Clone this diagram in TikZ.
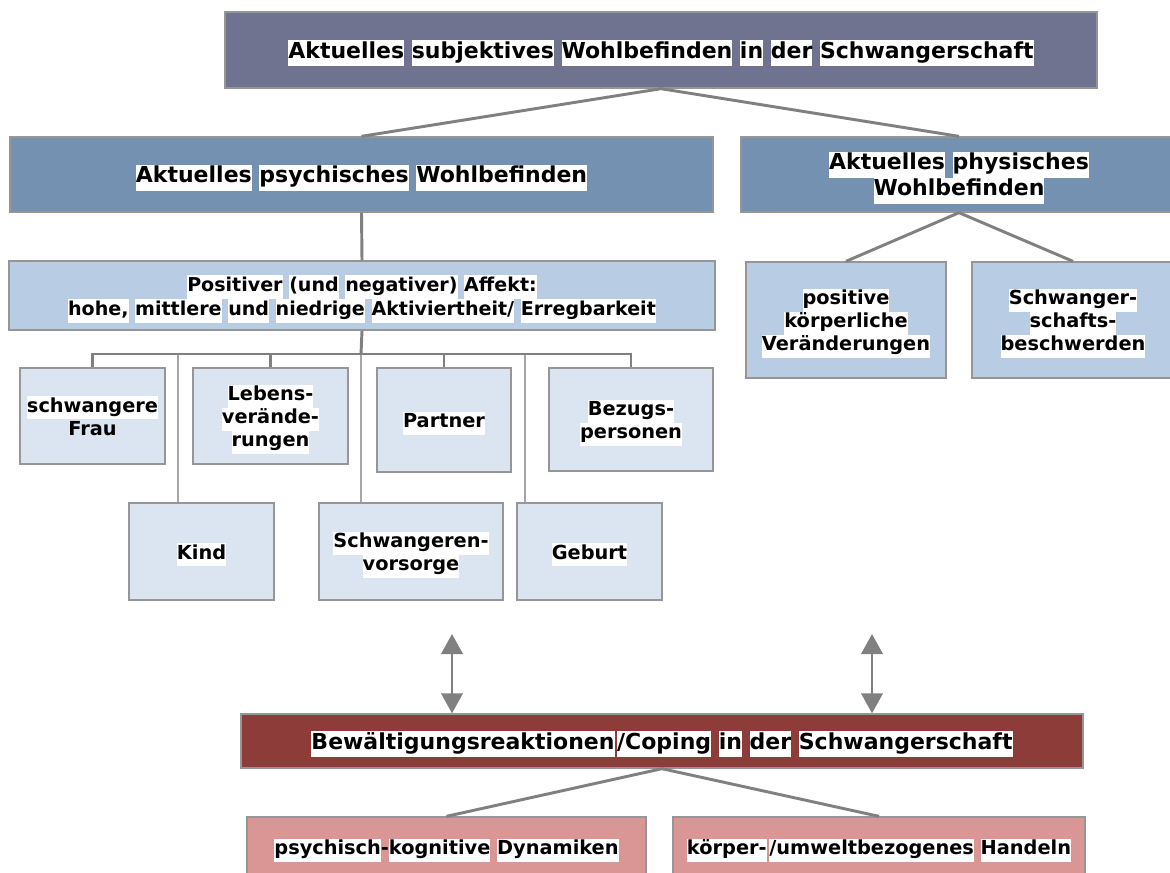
\documentclass[tikz,border=0pt]{standalone}
\usepackage{fontspec}
\setmainfont{DejaVu Sans}
\usepackage{tikz}
\usetikzlibrary{arrows.meta, positioning}
\definecolor{colorTop}{RGB}{111,115,144}
\definecolor{colorMid}{RGB}{117,145,177}
\definecolor{colorLow}{RGB}{184,204,228}
\definecolor{colorLeaf}{RGB}{219,229,241}
\definecolor{colorCope}{RGB}{142,60,58}
\definecolor{colorCopeLeaf}{RGB}{217,150,148}
\definecolor{colorFrame}{RGB}{150,150,150}
\definecolor{colorLink}{RGB}{128,128,128}
\definecolor{colorDrop}{RGB}{166,166,166}
\setlength{\fboxsep}{0pt}
% words sit on a white patch, set a little lower than the line box
\newcommand{\nohl}[1]{\raisebox{-2.25pt}[\height][\depth]{\strut #1}}
\newcommand{\hl}[1]{\nohl{\colorbox{white}{\strut #1}}}
\tikzset{
  box/.style 2 args={draw=colorFrame, line width=1pt, align=center, inner sep=0pt,
    minimum width=#1*0.75pt, minimum height=#2*0.75pt,
    font=\fontsize{14.5}{17.25}\selectfont\bfseries},
  head/.style={font=\fontsize{16.5}{19.5}\selectfont\bfseries},
  link/.style={draw=colorLink, line width=2.2pt},
  drop/.style={draw=colorDrop, line width=2.2pt},
  dbl/.style={draw=colorLink, line width=2.2pt, {Triangle[width=16pt,length=15pt]}-{Triangle[width=16pt,length=15pt]}}
}

\begin{document}
\begin{tikzpicture}[x=0.75pt, y=-0.75pt]
\useasboundingbox (0,0) rectangle (1170,872);
% top level
\node[box={872}{76}, head, fill=colorTop] (ttl) at (661,50) {\hl{Aktuelles} \hl{subjektives} \hl{Wohlbefinden} \hl{in} \hl{der} \hl{Schwangerschaft}};
\node[box={703}{75}, head, fill=colorMid] (psy) at (361.5,174.5) {\hl{Aktuelles} \hl{psychisches} \hl{Wohlbefinden}};
\node[box={436}{75}, head, fill=colorMid] (phy) at (959,174.5) {\hl{Aktuelles} \hl{physisches}\\\hl{Wohlbefinden}};
% psychisch
\node[box={706}{69}, fill=colorLow, font=\fontsize{14.3}{18}\selectfont\bfseries] (aff) at (362,295.5) {\hl{Positiver} \hl{(und} \hl{negativer)} \hl{Affekt:}\\\hl{hohe,} \hl{mittlere} \hl{und} \hl{niedrige} \hl{Aktiviertheit/} \hl{Erregbarkeit}};
\node[box={145}{96}, fill=colorLeaf] (frau) at (92.5,416) {\hl{schwangere}\\\nohl{Frau}};
\node[box={155}{96}, fill=colorLeaf] (leben) at (270.5,416) {\hl{Lebens-}\\\hl{verände-}\\\hl{rungen}};
\node[box={134}{104}, fill=colorLeaf] (partner) at (444,420) {\hl{Partner}};
\node[box={164}{103}, fill=colorLeaf] (bezug) at (631,419.5) {\hl{Bezugs-}\\\hl{personen}};
\node[box={145}{97}, fill=colorLeaf] (kind) at (201.5,551.5) {\hl{Kind}};
\node[box={184}{97}, fill=colorLeaf] (vorsorge) at (411,551.5) {\hl{Schwangeren-}\\\hl{vorsorge}};
\node[box={145}{97}, fill=colorLeaf] (geburt) at (589.5,551.5) {\hl{Geburt}};
% physisch
\node[box={200}{116}, fill=colorLow] (koerp) at (846,320) {\hl{positive}\\\hl{körperliche}\\\hl{Veränderungen}};
\node[box={202}{116}, fill=colorLow] (beschw) at (1073,320) {\hl{Schwanger-}\\\hl{schafts-}\\\hl{beschwerden}};
% coping
\node[box={842}{54}, head, fill=colorCope] (cope) at (662,741) {\hl{Bewältigungsreaktionen}\hspace{2pt}\hl{/Coping} \hl{in} \hl{der} \hl{Schwangerschaft}};
\node[box={399}{60}, fill=colorCopeLeaf] (dyn) at (446.5,847) {\hl{psychisch}\nohl{-}\hl{kognitive} \hl{Dynamiken}};
\node[box={412}{60}, fill=colorCopeLeaf] (hand) at (879,847) {\hl{körper-}\hspace{2pt}\hl{/umweltbezogenes} \hl{Handeln}};

\draw[link] (ttl.south) -- (psy.north);
\draw[link] (ttl.south) -- (phy.north);
\draw[link] (psy.south) -- (aff.north);
\draw[link] (phy.south) -- (koerp.north);
\draw[link] (phy.south) -- (beschw.north);
\draw[link] (cope.south) -- (dyn.north);
\draw[link] (cope.south) -- (hand.north);
% bus below the affect box
\coordinate (bus) at (361,354);
\coordinate (kd) at (178,354);
\coordinate (gd) at (525,354);
\draw[drop] (bus) -- (bus |- vorsorge.north);
\draw[drop] (kd) -- (kd |- kind.north);
\draw[drop] (gd) -- (gd |- geburt.north);
\draw[link] (aff.south) -- (bus);
\draw[link] (frau.north) |- (bus);
\draw[link] (bezug.north) |- (bus);
\draw[link] (leben.north) -- (leben.north |- bus);
\draw[link] (partner.north) -- (partner.north |- bus);
% coping arrows
\coordinate (a1) at (452,634);
\coordinate (a2) at (872,634);
\draw[dbl] (a1) -- (a1 |- cope.north);
\draw[dbl] (a2) -- (a2 |- cope.north);
\end{tikzpicture}
\end{document}
